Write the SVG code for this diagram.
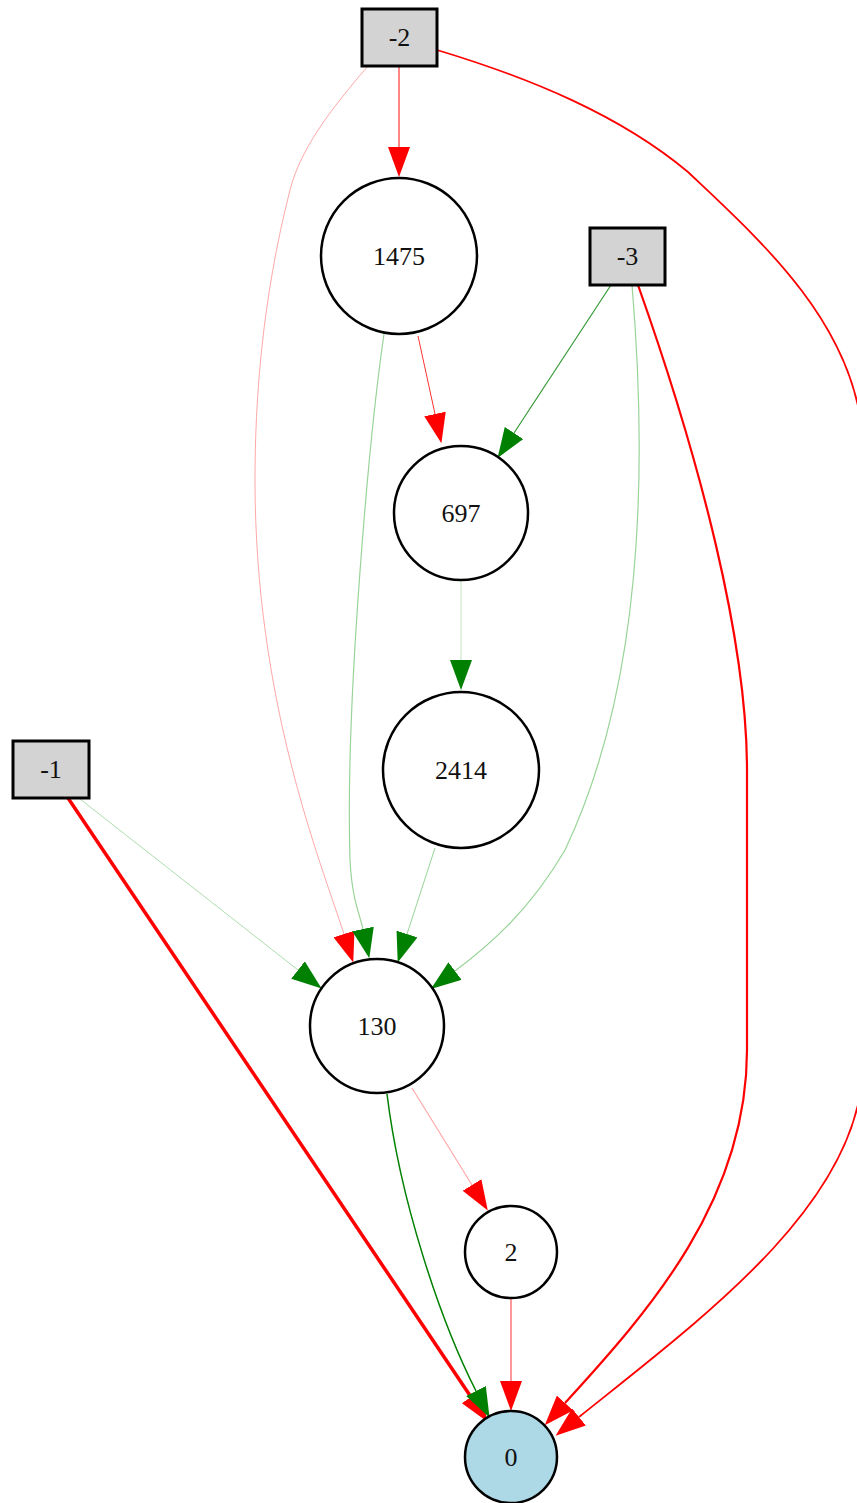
<svg xmlns="http://www.w3.org/2000/svg" width="857" height="1503" viewBox="0 0 857 1503">
  <style>
    .box { fill: #d3d3d3; stroke: #000; stroke-width: 3; }
    .node { fill: #fff; stroke: #000; stroke-width: 2.5; }
    .out { fill: #add8e6; stroke: #000; stroke-width: 2.5; }
    .lbl { font-family: "Liberation Serif", "Times New Roman", serif; font-size: 26px; fill: #111; text-anchor: middle; dominant-baseline: central; }
    .e { fill: none; }
    .red { stroke: #ff0000; marker-end: url(#ahR); }
    .pink { stroke: #ffa8a8; marker-end: url(#ahR); }
    .green { stroke: #008000; marker-end: url(#ahG); }
    .lgreen { stroke: #98d498; marker-end: url(#ahG); }
  </style>
  <defs>
    <marker id="ahR" markerUnits="userSpaceOnUse" viewBox="0 0 30 22" markerWidth="30" markerHeight="22" refX="0" refY="11" orient="auto">
      <path d="M0,0 L30,11 L0,22 z" fill="#ff0000"/>
    </marker>
    <marker id="ahG" markerUnits="userSpaceOnUse" viewBox="0 0 30 22" markerWidth="30" markerHeight="22" refX="0" refY="11" orient="auto">
      <path d="M0,0 L30,11 L0,22 z" fill="#008000"/>
    </marker>
  </defs>

  <g id="edges">
    <!-- -2 -> 1475 -->
    <path class="e red" stroke-width="1.2" stroke-opacity="0.8" d="M399,66 L399,147"/>
    <!-- -2 -> 130 -->
    <path class="e pink" stroke-width="1" d="M368,66 C330,110 300,150 290,190 C262,300 255,400 255,480 C255,700 320,860 344,934"/>
    <!-- -2 -> 0 -->
    <path class="e red" stroke-width="1.8" d="M437,50 C530,78 620,115 688,172 C760,240 850,320 862,430 L862,1080 C850,1210 700,1320 579,1417"/>
    <!-- 1475 -> 697 -->
    <path class="e red" stroke-width="1" stroke-opacity="0.8" d="M418,336 L435,414"/>
    <!-- 1475 -> 130 -->
    <path class="e lgreen" stroke-width="1.2" d="M384,334 C370,430 345,700 350,860 C352,900 360,915 363,929"/>
    <!-- -3 -> 697 -->
    <path class="e green" stroke-width="1.2" stroke-opacity="0.8" d="M611,285 L514,433"/>
    <!-- -3 -> 130 -->
    <path class="e lgreen" stroke-width="1.2" d="M632,285 C640,380 660,650 565,850 C530,910 490,945 455,971"/>
    <!-- -3 -> 0 -->
    <path class="e red" stroke-width="2.2" d="M638,285 C700,460 747,640 747,770 L747,1050 C747,1200 650,1310 565,1403"/>
    <!-- 697 -> 2414 -->
    <path class="e lgreen" stroke-width="1" stroke-opacity="0.6" d="M461,580 L461,660"/>
    <!-- 2414 -> 130 -->
    <path class="e lgreen" stroke-width="1" d="M435,848 L407,934"/>
    <!-- -1 -> 130 -->
    <path class="e lgreen" stroke-width="1" stroke-opacity="0.8" d="M80,799 L298,970"/>
    <!-- -1 -> 0 -->
    <path class="e red" stroke-width="3.5" d="M68,798 L471,1397"/>
    <!-- 130 -> 0 -->
    <path class="e green" stroke-width="1.5" d="M387,1094 C400,1200 440,1320 476,1391"/>
    <!-- 130 -> 2 -->
    <path class="e pink" stroke-width="1.2" d="M412,1088 L472,1185"/>
    <!-- 2 -> 0 -->
    <path class="e red" stroke-width="1" stroke-opacity="0.8" d="M511,1298 L511,1381"/>
  </g>

  <g id="n-2"><rect class="box" x="362" y="9" width="75" height="57"/><text class="lbl" x="399.5" y="37.5">-2</text></g>
  <g id="n-3"><rect class="box" x="590" y="228" width="75" height="57"/><text class="lbl" x="627.5" y="256.5">-3</text></g>
  <g id="n-1"><rect class="box" x="13" y="741" width="76" height="57"/><text class="lbl" x="51" y="769.5">-1</text></g>
  <g id="n1475"><circle class="node" cx="399" cy="256" r="78"/><text class="lbl" x="399" y="256">1475</text></g>
  <g id="n697"><circle class="node" cx="461" cy="513" r="67"/><text class="lbl" x="461" y="513">697</text></g>
  <g id="n2414"><circle class="node" cx="461" cy="770" r="78"/><text class="lbl" x="461" y="770">2414</text></g>
  <g id="n130"><circle class="node" cx="377" cy="1026" r="67"/><text class="lbl" x="377" y="1026">130</text></g>
  <g id="n2"><circle class="node" cx="511" cy="1252" r="46"/><text class="lbl" x="511" y="1252">2</text></g>
  <g id="n0"><circle class="out" cx="511" cy="1457" r="46"/><text class="lbl" x="511" y="1457">0</text></g>
</svg>
